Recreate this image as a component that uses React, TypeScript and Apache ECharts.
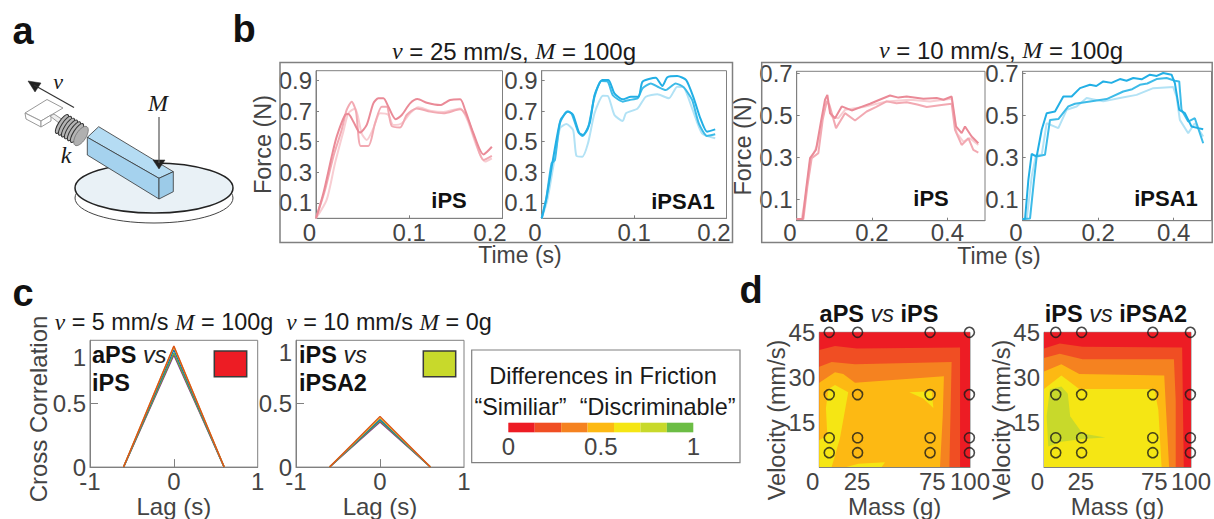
import React, { useEffect, useRef } from "react";
import * as echarts from "echarts";

const SANS = "Liberation Sans";
const SERIF = "Liberation Serif";
const GREY = "#808080";
const TICK_TEXT = "#444444";

// Panel b: force traces, [time (s), force (N)]
const b1Dark = [[0,0],[.0079,.163],[.0168,.402],[.0222,.533],[.0311,.674],[.0347,.68],[.0401,.63],[.0472,.559],[.0544,.609],[.0615,.75],[.0669,.783],[.0723,.783],[.0776,.728],[.0855,.646],[.092,.674],[.1009,.75],[.1088,.778],[.1188,.754],[.1331,.739],[.1438,.772],[.1546,.776],[.1599,.707],[.1689,.554],[.1796,.417],[.1886,.467]];
const b1Mid = [[0,0],[.0097,.185],[.0186,.402],[.0275,.576],[.0329,.707],[.0383,.761],[.0429,.696],[.0479,.472],[.0562,.472],[.0633,.62],[.0705,.728],[.0758,.728],[.0812,.602],[.0902,.593],[.0973,.674],[.108,.717],[.1224,.696],[.1367,.685],[.1546,.711],[.1617,.663],[.1707,.511],[.1796,.38],[.1886,.407]];
const b1Light = [[0,0],[.0114,.12],[.0204,.359],[.0293,.565],[.0347,.685],[.0419,.717],[.049,.554],[.0544,.511],[.0615,.587],[.0687,.685],[.0776,.674],[.083,.609],[.092,.62],[.1009,.685],[.1098,.724],[.1224,.702],[.1367,.693],[.1546,.717],[.1624,.641],[.1725,.467],[.1814,.37],[.1886,.391]];
const b2Dark = [[0,0],[.0047,.12],[.0107,.359],[.0143,.38],[.0197,.62],[.0275,.696],[.0322,.685],[.0394,.565],[.044,.537],[.0501,.587],[.0572,.793],[.0644,.896],[.0716,.891],[.0769,.804],[.0877,.761],[.0948,.772],[.1038,.783],[.1091,.848],[.1181,.88],[.127,.854],[.1342,.837],[.1449,.88],[.1538,.854],[.1628,.772],[.17,.62],[.1789,.537],[.1878,.548]];
const b2Mid = [[0,0],[.0054,.141],[.0118,.37],[.0204,.641],[.0286,.696],[.034,.674],[.0404,.559],[.0447,.543],[.0519,.62],[.0572,.804],[.0655,.902],[.0723,.902],[.0787,.815],[.0877,.776],[.0966,.793],[.1048,.793],[.1091,.891],[.1234,.917],[.1306,.863],[.136,.92],[.1467,.928],[.1564,.902],[.1646,.783],[.1717,.652],[.1789,.565],[.1878,.58]];
const b2Light = [[0,0],[.0061,.12],[.0125,.337],[.0197,.587],[.0268,.615],[.034,.576],[.0376,.407],[.044,.402],[.0501,.489],[.0572,.685],[.0662,.8],[.0716,.798],[.0787,.674],[.0877,.635],[.0912,.685],[.1038,.717],[.1127,.793],[.1252,.809],[.1377,.783],[.1467,.859],[.1538,.854],[.1628,.717],[.1735,.554],[.1878,.522]];
const b3Dark = [[0,.008],[.0159,.008],[.0248,.146],[.0354,.297],[.0513,.337],[.0637,.463],[.0752,.575],[.0814,.598],[.0885,.511],[.1018,.487],[.1195,.543],[.146,.524],[.17,.54],[.1947,.556],[.22,.575],[.2478,.595],[.27,.585],[.292,.59],[.3363,.579],[.3717,.583],[.39,.575],[.4115,.59],[.423,.448],[.438,.416],[.4469,.448],[.4646,.4],[.4823,.368]];
const b3Mid = [[0,.008],[.0177,.008],[.0283,.162],[.0398,.297],[.0575,.321],[.069,.479],[.0796,.567],[.0867,.551],[.1044,.44],[.1283,.511],[.1549,.476],[.1858,.519],[.21,.54],[.2389,.567],[.265,.558],[.292,.563],[.32,.552],[.3451,.54],[.3894,.551],[.4115,.556],[.4204,.432],[.438,.36],[.4558,.392],[.469,.337],[.4823,.324]];
const b3Light = [[0,.008],[.0133,.008],[.0248,.13],[.0354,.281],[.0549,.36],[.069,.495],[.0814,.575],[.0929,.495],[.1106,.487],[.1283,.527],[.177,.54],[.2389,.567],[.3009,.575],[.354,.567],[.4115,.579],[.4248,.416],[.4425,.376],[.4602,.392],[.4823,.36]];
const b4Dark = [[0,.008],[.0062,.008],[.015,.194],[.0238,.317],[.037,.305],[.0503,.432],[.0635,.511],[.0855,.519],[.1076,.59],[.1296,.59],[.1517,.63],[.1781,.646],[.195,.64],[.2134,.662],[.235,.655],[.2575,.673],[.275,.665],[.2928,.678],[.315,.672],[.3369,.694],[.355,.688],[.3721,.702],[.3942,.694],[.403,.654],[.4145,.527],[.4295,.511],[.4471,.448],[.4647,.44],[.478,.435]];
const b4Mid = [[0,.008],[.0194,.011],[.03,.194],[.037,.305],[.059,.313],[.0723,.479],[.0944,.483],[.1208,.543],[.1384,.556],[.1781,.567],[.2222,.578],[.2663,.614],[.29,.625],[.3104,.646],[.33,.652],[.3545,.673],[.381,.678],[.403,.665],[.4145,.662],[.4206,.527],[.4383,.471],[.4559,.487],[.478,.368]];
const b4Light = [[0,.008],[.0106,.008],[.0238,.21],[.0353,.313],[.0503,.313],[.0635,.463],[.0944,.44],[.1164,.527],[.1429,.543],[.1693,.583],[.2134,.567],[.2575,.583],[.3016,.598],[.3457,.63],[.3986,.635],[.4074,.59],[.4162,.479],[.4383,.416],[.4559,.463],[.478,.4]];

// Panel c: cross-correlation peak of each trial
const lagFoot = 0.6;
const c1Peaks = [0.885, 0.9, 0.925, 0.95, 0.955];
const c2Peaks = [0.355, 0.365, 0.375, 0.39, 0.4];
const trialColors = ["#7E2F8E", "#77AC30", "#0072BD", "#EDB120", "#D95319"];

// Panels c/d: difference scale
const scaleColors = ["#ed1c24", "#f04e23", "#f58220", "#fdb913", "#f5e614", "#c8d92b", "#6cbd45"];

// Panel d: test conditions
const d1Masses = [6.6, 25.4, 73.5, 99.6];
const d2Masses = [8, 25.6, 74, 99.6];
const velocities = [45, 24.2, 9.8, 4.8];

// Panel d: contour regions, [mass (g), velocity (mm/s)]
const fullField = [[0, 0], [0, 45], [100, 45], [100, 0]];
const d1L1 = [[0,39.1],[10.4,40.4],[24.8,39.6],[93.4,39.9],[93.4,0],[0,0]];
const d1L2 = [[0,33.5],[8.2,35.1],[23.7,34.3],[87.8,35.1],[86.3,0],[0,0]];
const d1L3 = [[0,28.2],[10.4,31.7],[15.9,31.1],[23.7,28.2],[82.7,30.3],[81.9,17],[80.1,0],[0,0]];
const d1L4a = [[10.4,27.4],[19.2,25],[13.7,9.6],[8.2,0],[0,0],[0,9],[5.3,10.6],[4.4,19.7],[6,26]];
const d1L4b = [[59.7,25],[74.6,25.3],[75.7,19.7],[69,22.9]];
const d1L4c = [[18.1,0],[25.9,1.1],[43.6,1.6],[41.4,0]];
const d2L1 = [[0,39.6],[10.7,41.3],[26.2,40.2],[94,39.9],[95.1,0],[0,0]];
const d2L2 = [[0,36.4],[10.7,37.8],[26.2,36],[88.4,36],[89.6,22.3],[89.6,0],[0,0]];
const d2L3 = [[0,31.9],[11.8,34.3],[24,31.1],[81.8,30.6],[82.9,20.2],[85.1,0],[0,0]];
const d2L4 = [[0,26.1],[11.8,30.6],[24,26.1],[75.1,26.1],[77.8,19.1],[80,0],[0,0]];
const d2L5 = [[4,26],[11.8,26.9],[16.2,24.5],[17.8,17],[26.2,11.2],[41.8,9.9],[26.2,9.4],[11.8,8.5],[2.9,6.9],[1.8,17]];

const PINK = ["#f8cdd2", "#f2a9b2", "#ea8a97"];
const BLUE = ["#b2e2f5", "#3dbbe8", "#22afe5"];

const grids: any[] = [];
const xAxes: any[] = [];
const yAxes: any[] = [];
const series: any[] = [];

const labelStyle = { color: TICK_TEXT, fontSize: 24, fontFamily: SANS };

function addAxes(box: number[], x: any, y: any) {
  const i = grids.length;
  grids.push({ left: box[0], top: box[1], width: box[2] - box[0], height: box[3] - box[1], show: true, borderColor: GREY, borderWidth: 1, backgroundColor: "transparent" });
  xAxes.push({
    gridIndex: i, type: "value", min: x.min, max: x.max, splitLine: { show: false },
    axisLine: { show: true, onZero: false, lineStyle: { color: GREY } },
    axisTick: { show: true, inside: true, length: x.tickLength ?? 3, lineStyle: { color: GREY }, customValues: x.ticks },
    axisLabel: {
      ...labelStyle, margin: x.margin ?? 2, customValues: x.labels,
      alignMinLabel: x.minAlign ?? "right", alignMaxLabel: "center",
      formatter: (v: number) => (x.maxPad && v === x.max ? `{last|${v}}` : String(v)),
      rich: { last: { ...labelStyle, padding: [0, x.maxPad ?? 0, 0, 0] } },
    },
    name: x.name, nameLocation: "middle", nameGap: x.nameGap, nameTextStyle: { color: TICK_TEXT, fontSize: 24, fontFamily: SANS },
  });
  yAxes.push({
    gridIndex: i, type: "value", min: y.min, max: y.max, splitLine: { show: false },
    axisLine: { show: true, onZero: false, lineStyle: { color: GREY } },
    axisTick: { show: true, inside: true, length: y.tickLength ?? 3, lineStyle: { color: GREY }, customValues: y.ticks },
    axisLabel: {
      ...labelStyle, margin: 4, customValues: y.labels, verticalAlignMaxLabel: y.maxVAlign, verticalAlignMinLabel: "middle",
      formatter: (v: number) => (y.maxDrop && v === y.max ? `{top|${v}}` : String(v)),
      rich: { top: { ...labelStyle, padding: [y.maxDrop ?? 0, 0, 0, 0] } },
    },
    name: y.name, nameLocation: "middle", nameGap: y.nameGap, nameTextStyle: { color: TICK_TEXT, fontSize: 23.5, fontFamily: SANS },
  });
  return i;
}

function addTraces(i: number, traces: number[][][], colors: string[], smooth: number) {
  traces.forEach((data, k) => {
    series.push({ type: "line", xAxisIndex: i, yAxisIndex: i, data, symbol: "none", clip: false, smooth, lineStyle: { color: colors[k], width: 2 }, z: 2 + k });
  });
}

const forceY1 = { min: 0, max: 0.963, ticks: [0.1, 0.3, 0.5, 0.7, 0.9], labels: [0.1, 0.3, 0.5, 0.7, 0.9], maxVAlign: "middle" };
const forceY2 = { min: 0, max: 0.71, ticks: [0.1, 0.3, 0.5, 0.7], labels: [0.1, 0.3, 0.5, 0.7], maxVAlign: "middle" };
const timeX1 = { min: 0, max: 0.2, ticks: [0, 0.1, 0.2], labels: [0, 0.1, 0.2], margin: 2, maxPad: 25 };
const timeX2 = { min: 0, max: 0.5, ticks: [0, 0.2, 0.4], labels: [0, 0.2, 0.4], margin: 0 };

addTraces(addAxes([316, 70.7, 502.5, 218.3], timeX1, { ...forceY1, name: "Force (N)", nameGap: 36 }), [b1Light, b1Mid, b1Dark], PINK, 0.25);
addTraces(addAxes([541.7, 70.7, 726.5, 218.3], timeX1, forceY1), [b2Light, b2Dark, b2Mid], BLUE, 0.2);
addTraces(addAxes([796.7, 71.3, 985, 220.7], timeX2, { ...forceY2, name: "Force (N)", nameGap: 36 }), [b3Light, b3Mid, b3Dark], PINK, 0);
addTraces(addAxes([1022.7, 71.3, 1211.5, 220.7], timeX2, forceY2), [b4Light, b4Mid, b4Dark], BLUE, 0);

function addCorrelation(box: number[], peaks: number[], drop: number) {
  const i = addAxes(box,
    { min: -1, max: 1, ticks: [0], labels: [-1, 0, 1], tickLength: 8, margin: 2, minAlign: "center", name: "Lag (s)", nameGap: 26 },
    { min: 0, max: 1, ticks: [0.5], labels: [0, 0.5, 1], tickLength: 8, maxVAlign: "top", maxDrop: drop });
  peaks.forEach((p, k) => {
    series.push({ type: "line", xAxisIndex: i, yAxisIndex: i, data: [[-lagFoot, 0], [0, p], [lagFoot, 0]], symbol: "none", clip: false, lineStyle: { color: trialColors[k], width: 1.4 }, z: 3 + k });
  });
}
addCorrelation([90, 340.3, 257.7, 470], c1Peaks, 5);
addCorrelation([296, 340.3, 464, 470], c2Peaks, 0);

function addContours(box: number[], regions: [number[][], number][], masses: number[]) {
  const i = addAxes(box,
    { min: 0, max: 100, ticks: [], labels: [0, 25, 75, 100], tickLength: 0, margin: 2, name: "Mass (g)", nameGap: 22 },
    { min: 0, max: 45, ticks: [], labels: [15, 30, 45], tickLength: 0, maxVAlign: "middle" });
  series.push({
    type: "custom", xAxisIndex: i, yAxisIndex: i, clip: false, z: 2,
    data: regions.map((_, k) => [k, 0]),
    encode: { x: 0, y: 1 },
    renderItem: (_p: any, api: any) => {
      const r = regions[api.value(0)];
      return { type: "polygon", shape: { points: r[0].map((pt) => api.coord(pt)) }, style: { fill: scaleColors[r[1]], stroke: "none" } };
    },
  });
  const pts: number[][] = [];
  velocities.forEach((v) => masses.forEach((m) => pts.push([m, v])));
  series.push({ type: "scatter", xAxisIndex: i, yAxisIndex: i, data: pts, symbol: "circle", symbolSize: 10, clip: false, z: 5, itemStyle: { color: "rgba(0,0,0,0)", borderColor: "#1a1a1a", borderWidth: 1.6 } });
}
addContours([819.3, 332.3, 970, 473.3], [[fullField, 0], [d1L1, 1], [d1L2, 2], [d1L3, 3], [d1L4a, 4], [d1L4b, 4], [d1L4c, 4]], d1Masses);
addContours([1044, 332.3, 1194, 473.3], [[fullField, 0], [d2L1, 1], [d2L2, 2], [d2L3, 3], [d2L4, 4], [d2L5, 5]], d2Masses);

// Colour bar of the legend box
{
  const i = grids.length;
  grids.push({ left: 508.3, top: 422.7, width: 185, height: 9.6, show: false });
  xAxes.push({ gridIndex: i, type: "value", min: 0, max: 1, splitLine: { show: false }, axisLine: { show: false }, axisTick: { show: false }, axisLabel: { ...labelStyle, margin: 2, customValues: [0, 0.5, 1], formatter: (v: number) => String(v) } });
  yAxes.push({ gridIndex: i, type: "value", min: 0, max: 1, show: false });
  series.push({
    type: "custom", xAxisIndex: i, yAxisIndex: i, clip: false, z: 3,
    data: scaleColors.map((_, k) => [k, 0]),
    encode: { x: 0 },
    renderItem: (_p: any, api: any) => {
      const k = api.value(0);
      const a = api.coord([k / scaleColors.length, 1]);
      const b = api.coord([(k + 1) / scaleColors.length, 0]);
      return { type: "rect", shape: { x: a[0], y: a[1], width: b[0] - a[0], height: b[1] - a[1] }, style: { fill: scaleColors[k] } };
    },
  });
}

const txt = (text: string, x: number, y: number, size: number, o: any = {}) => ({
  type: "text", x, y, z: 20, rotation: o.rotation ?? 0,
  style: { text, fontSize: size, fontFamily: o.family ?? SANS, fontWeight: o.weight ?? "normal", fontStyle: o.style ?? "normal", fill: o.fill ?? "#1a1a1a", align: o.align ?? "center", verticalAlign: "middle", rich: o.rich },
});
const titleRich = (size: number) => ({
  i: { fontFamily: SERIF, fontStyle: "italic", fontSize: size, fill: "#1a1a1a" },
  n: { fontFamily: SANS, fontSize: size, fill: "#1a1a1a" },
});
const labelRich = (size: number) => ({
  b: { fontFamily: SANS, fontWeight: "bold", fontSize: size, fill: "#111" },
  i: { fontFamily: SANS, fontStyle: "italic", fontSize: size, fill: "#222" },
});
const frame = (x: number, y: number, w: number, h: number, stroke = GREY, lineWidth = 1.5, fill = "none", z = 1) => ({
  type: "rect", z, shape: { x, y, width: w, height: h }, style: { fill, stroke, lineWidth },
});
const poly = (points: number[][], fill: string, stroke = "#333", lineWidth = 0.8) => ({
  type: "polygon", z: 6, shape: { points }, style: { fill, stroke, lineWidth },
});

const coilAt = [[62, 124], [65, 125.8], [68, 127.6], [71, 129.4], [74, 131.2], [77, 133]];

const schematic: any[] = [
  { type: "ellipse", z: 4, shape: { cx: 154, cy: 198, rx: 79, ry: 25 }, style: { fill: "#fff", stroke: "#444", lineWidth: 1 } },
  { type: "ellipse", z: 5, shape: { cx: 154, cy: 188, rx: 79, ry: 25 }, style: { fill: "#e9f1f6", stroke: "#222", lineWidth: 1.5 } },
  poly([[98.7, 126.7], [173.3, 171.7], [159, 178.3], [87.3, 137.3]], "#b5dcf3"),
  poly([[87.3, 137.3], [159, 178.3], [159, 199], [87.3, 155]], "#a5d2ee"),
  poly([[159, 178.3], [173.3, 171.7], [173.3, 191.7], [159, 199]], "#9ccbe8"),
  poly([[25, 113], [47, 99.5], [63, 108], [41, 121]], "#fff", "#999", 1),
  poly([[25, 113], [41, 121], [41, 127], [26, 119]], "#fff", "#999", 1),
  poly([[41, 121], [51, 115], [51, 121], [41, 127]], "#fff", "#999", 1),
  poly([[50, 116], [54, 114], [63, 120], [59, 123]], "#eee", "#999", 1),
  ...coilAt.map((c) => ({ type: "ellipse", z: 6, x: c[0], y: c[1], rotation: -0.57, shape: { cx: 0, cy: 0, rx: 3.5, ry: 11 }, style: { fill: "#b5b5b5", stroke: "#333", lineWidth: 1 } })),
  { type: "ellipse", z: 6, x: 81, y: 136, rotation: -0.57, shape: { cx: 0, cy: 0, rx: 5, ry: 11 }, style: { fill: "#b0b0b0", stroke: "#777", lineWidth: 0.8 } },
  { type: "line", z: 7, shape: { x1: 74, y1: 107.5, x2: 34, y2: 85 }, style: { stroke: "#333", lineWidth: 1.2 } },
  poly([[28, 81], [41, 83], [35, 92]], "#222", "#222", 0.5),
  { type: "line", z: 7, shape: { x1: 159, y1: 117, x2: 159, y2: 163 }, style: { stroke: "#555", lineWidth: 1.2 } },
  poly([[159, 169], [153, 160], [165, 160]], "#222", "#222", 0.5),
  txt("v", 58, 81, 22, { family: SERIF, style: "italic" }),
  txt("M", 158, 103, 24, { family: SERIF, style: "italic" }),
  txt("k", 66, 155, 24, { family: SERIF, style: "italic" }),
];

const graphics: any[] = [
  frame(280, 62.5, 452.5, 180),
  frame(761.7, 62.5, 450.5, 180),
  frame(471.7, 350, 268.3, 112.7, GREY, 1.2),
  frame(214.3, 351, 32.4, 25.7, "#3a3a3a", 1.5, "#ed1c24", 12),
  frame(423.3, 351, 32.4, 25.7, "#3a3a3a", 1.5, "#c8d92b", 12),
  ...schematic,
  txt("a", 23, 31, 38, { weight: "bold", fill: "#111" }),
  txt("b", 244, 29, 38, { weight: "bold", fill: "#111" }),
  txt("c", 23, 293, 38, { weight: "bold", fill: "#111" }),
  txt("d", 751, 290, 38, { weight: "bold", fill: "#111" }),
  txt("{i|v}{n| = 25 mm/s, }{i|M}{n| = 100g}", 514, 51, 24, { rich: titleRich(24) }),
  txt("{i|v}{n| = 10 mm/s, }{i|M}{n| = 100g}", 1001, 50, 24, { rich: titleRich(24) }),
  txt("Time (s)", 520, 255, 23, { fill: TICK_TEXT }),
  txt("Time (s)", 999, 256, 23, { fill: TICK_TEXT }),
  txt("iPS", 449, 200, 22, { weight: "bold", fill: "#111" }),
  txt("iPSA1", 683, 201, 22, { weight: "bold", fill: "#111" }),
  txt("iPS", 931, 198, 22, { weight: "bold", fill: "#111" }),
  txt("iPSA1", 1166, 198, 22, { weight: "bold", fill: "#111" }),
  txt("{i|v}{n| = 5 mm/s }{i|M}{n| = 100g}", 164, 322, 23.4, { rich: titleRich(23.4) }),
  txt("{i|v}{n| = 10 mm/s }{i|M}{n| = 0g}", 389, 322, 23.4, { rich: titleRich(23.4) }),
  txt("Cross Correlation", 38.5, 409, 24, { fill: TICK_TEXT, rotation: Math.PI / 2 }),
  txt("Velocity (mm/s)", 776.7, 420, 23.5, { fill: TICK_TEXT, rotation: Math.PI / 2 }),
  txt("Velocity (mm/s)", 1001.7, 420, 23.5, { fill: TICK_TEXT, rotation: Math.PI / 2 }),
  txt("{b|aPS}{i| vs}", 92, 355, 23.5, { align: "left", rich: labelRich(23.5) }),
  txt("iPS", 92, 383, 23.5, { align: "left", weight: "bold", fill: "#111" }),
  txt("{b|iPS}{i| vs}", 299, 355, 23.5, { align: "left", rich: labelRich(23.5) }),
  txt("iPSA2", 299, 383, 23.5, { align: "left", weight: "bold", fill: "#111" }),
  txt("Differences in Friction", 603, 376, 23.6),
  txt("“Similiar”  “Discriminable”", 605, 407, 23.4),
  txt("{b|aPS}{i| vs }{b|iPS}", 879, 314, 23.5, { rich: labelRich(23.5) }),
  txt("{b|iPS}{i| vs }{b|iPSA2}", 1116, 314, 23.5, { rich: labelRich(23.5) }),
];

export default function App() {
  const ref = useRef<HTMLDivElement>(null);
  useEffect(() => {
    document.body.style.margin = "0";
    const chart = echarts.init(ref.current!, undefined, { renderer: "svg" });
    chart.setOption({ animation: false, backgroundColor: "#fff", grid: grids, xAxis: xAxes, yAxis: yAxes, series, graphic: graphics, tooltip: { show: false } });
    return () => chart.dispose();
  }, []);
  return <div ref={ref} style={{ width: 1214, height: 519, position: "absolute", left: 0, top: 0 }} />;
}
